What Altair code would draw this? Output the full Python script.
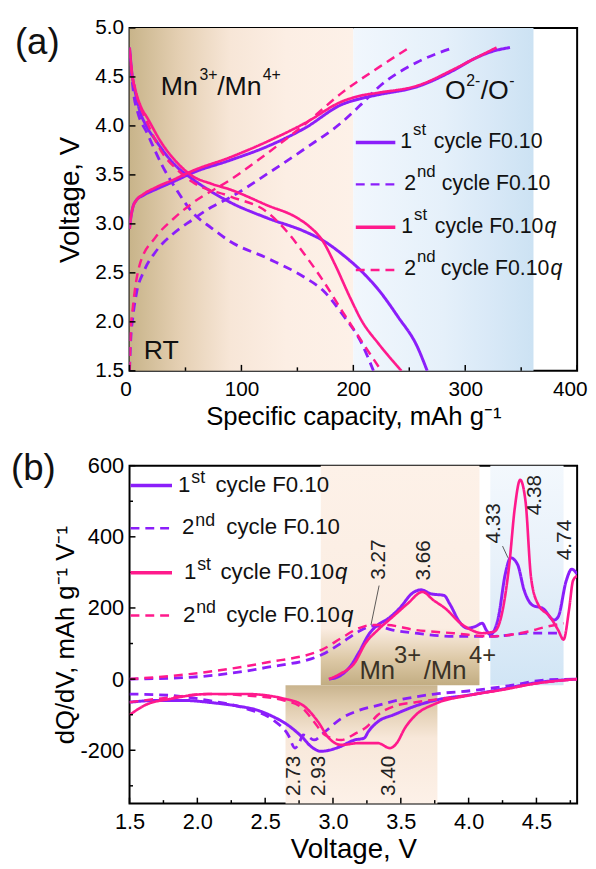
import altair as alt
import pandas as pd

FONT = "Liberation Sans"
PURPLE = "#8B1EFA"
PINK = "#FF1A8C"
INK = "#111111"

SERIES = ["1st F0.10", "2nd F0.10", "1st F0.10q", "2nd F0.10q"]
SERIES_COLORS = [PURPLE, PURPLE, PINK, PINK]

# ---------------- panel (a): voltage profiles ----------------
A_CAP_1ST_F010_CH = [0, 1, 3, 6, 12, 23, 39, 56, 90, 123, 157, 190, 207, 223, 257, 290, 307, 324, 340]
A_V_1ST_F010_CH = [2.95, 3.05, 3.17, 3.24, 3.29, 3.35, 3.43, 3.52, 3.65, 3.79, 3.98, 4.22, 4.28, 4.32, 4.40, 4.57, 4.68, 4.76, 4.80]
A_CAP_1ST_F010_DIS = [0, 2, 5, 9, 15, 23, 39, 56, 73, 90, 123, 157, 173, 190, 207, 223, 240, 257, 266]
A_V_1ST_F010_DIS = [4.80, 4.55, 4.35, 4.16, 4.00, 3.86, 3.62, 3.46, 3.33, 3.22, 3.06, 2.92, 2.83, 2.69, 2.52, 2.32, 2.05, 1.75, 1.50]

A_CAP_1ST_F010Q_CH = [0, 1, 3, 6, 12, 23, 39, 56, 90, 123, 157, 190, 207, 223, 257, 290, 307, 328]
A_V_1ST_F010Q_CH = [2.95, 3.05, 3.17, 3.24, 3.30, 3.37, 3.45, 3.54, 3.68, 3.84, 4.03, 4.25, 4.31, 4.34, 4.41, 4.58, 4.68, 4.80]
A_CAP_1ST_F010Q_DIS = [0, 2, 5, 10, 16, 29, 43, 56, 73, 90, 123, 150, 160, 173, 183, 197, 207, 223, 243]
A_V_1ST_F010Q_DIS = [4.80, 4.55, 4.38, 4.20, 4.08, 3.82, 3.62, 3.49, 3.41, 3.35, 3.19, 3.06, 2.98, 2.82, 2.60, 2.25, 2.02, 1.77, 1.50]

A_CAP_2ND_F010_CH = [0, 1, 3, 6, 13, 23, 39, 56, 73, 90, 123, 157, 190, 207, 223, 257, 290]
A_V_2ND_F010_CH = [1.50, 1.80, 2.05, 2.28, 2.52, 2.71, 2.90, 3.04, 3.17, 3.27, 3.51, 3.77, 4.04, 4.22, 4.40, 4.65, 4.80]
A_CAP_2ND_F010_DIS = [0, 2, 4, 7, 16, 29, 43, 56, 73, 90, 123, 157, 173, 190, 207, 218]
A_V_2ND_F010_DIS = [4.75, 4.50, 4.30, 4.15, 3.92, 3.60, 3.33, 3.12, 2.96, 2.82, 2.65, 2.45, 2.32, 2.08, 1.79, 1.50]

A_CAP_2ND_F010Q_CH = [0, 1, 3, 9, 23, 39, 56, 90, 123, 157, 190, 223, 250]
A_V_2ND_F010Q_CH = [1.50, 1.90, 2.15, 2.58, 2.86, 3.05, 3.21, 3.45, 3.72, 4.02, 4.34, 4.60, 4.80]
A_CAP_2ND_F010Q_DIS = [0, 2, 6, 16, 29, 43, 56, 90, 123, 140, 157, 173, 190, 207, 225]
A_V_2ND_F010Q_DIS = [4.78, 4.55, 4.33, 4.03, 3.73, 3.55, 3.43, 3.28, 3.12, 2.93, 2.68, 2.42, 2.11, 1.81, 1.50]

A_XDOMAIN = [0, 400]
A_YDOMAIN = [1.5, 5.0]
A_XTICKS = [0, 100, 200, 300, 400]
A_XMINOR = [50, 150, 250, 350]
A_YTICKS = [1.5, 2.0, 2.5, 3.0, 3.5, 4.0, 4.5, 5.0]
A_BAND_MN = [0, 200]
A_BAND_O = [200, 361]

# ---------------- panel (b): dQ/dV ----------------
B_V_1ST_F010_CH = [2.97, 3.05, 3.13, 3.19, 3.27, 3.33, 3.41, 3.50, 3.58, 3.65, 3.72, 3.82, 3.86, 3.94, 3.99, 4.05, 4.10, 4.13, 4.16, 4.22, 4.27, 4.31, 4.36, 4.41, 4.47, 4.55, 4.63, 4.66, 4.72, 4.76, 4.80]
B_DQ_1ST_F010_CH = [0, 9, 37, 74, 129, 152, 171, 203, 240, 251, 240, 235, 212, 157, 143, 148, 157, 138, 125, 175, 295, 341, 323, 249, 208, 198, 166, 175, 277, 309, 295]
B_V_1ST_F010Q_CH = [2.97, 3.05, 3.16, 3.24, 3.33, 3.44, 3.55, 3.66, 3.74, 3.83, 3.94, 4.02, 4.10, 4.19, 4.24, 4.30, 4.34, 4.38, 4.42, 4.46, 4.51, 4.60, 4.66, 4.70, 4.74, 4.77, 4.80]
B_DQ_1ST_F010Q_CH = [0, 14, 46, 101, 138, 175, 212, 245, 222, 198, 157, 138, 129, 134, 175, 323, 480, 560, 498, 286, 212, 175, 138, 111, 194, 277, 290]
B_V_2ND_F010_CH = [1.50, 1.94, 2.50, 2.92, 3.06, 3.19, 3.31, 3.44, 3.61, 3.89, 4.17, 4.44, 4.69]
B_DQ_2ND_F010_CH = [0, 5, 32, 69, 101, 134, 150, 138, 129, 120, 120, 129, 129]
B_V_2ND_F010Q_CH = [1.50, 1.94, 2.50, 2.92, 3.06, 3.19, 3.28, 3.39, 3.61, 3.89, 4.17, 4.44, 4.58, 4.70]
B_DQ_2ND_F010Q_CH = [0, 14, 46, 83, 115, 143, 152, 152, 138, 129, 120, 134, 148, 157]

B_V_1ST_F010_DIS = [4.80, 4.50, 4.25, 4.00, 3.77, 3.62, 3.45, 3.33, 3.26, 3.23, 3.16, 3.04, 2.91, 2.84, 2.77, 2.67, 2.55, 2.43, 2.30, 2.10, 1.90, 1.70, 1.50]
B_DQ_1ST_F010_DIS = [0, -10, -28, -45, -58, -74, -100, -120, -148, -166, -171, -192, -203, -190, -162, -130, -104, -86, -76, -66, -60, -60, -65]
B_V_1ST_F010Q_DIS = [4.80, 4.50, 4.25, 4.00, 3.75, 3.61, 3.53, 3.47, 3.42, 3.33, 3.19, 3.06, 2.97, 2.89, 2.78, 2.64, 2.36, 2.08, 1.81, 1.61, 1.50]
B_DQ_1ST_F010Q_DIS = [0, -12, -30, -46, -70, -101, -138, -180, -194, -180, -180, -185, -166, -120, -74, -55, -42, -42, -55, -74, -101]
B_V_2ND_F010_DIS = [4.80, 4.58, 4.31, 4.03, 3.75, 3.47, 3.33, 3.19, 3.06, 2.94, 2.86, 2.81, 2.78, 2.75, 2.72, 2.67, 2.56, 2.36, 2.08, 1.81, 1.50]
B_DQ_2ND_F010_DIS = [0, -2, -18, -32, -42, -60, -74, -88, -111, -148, -171, -160, -157, -180, -194, -157, -115, -83, -60, -46, -42]
B_V_2ND_F010Q_DIS = [4.80, 4.50, 4.17, 3.89, 3.61, 3.47, 3.33, 3.25, 3.17, 3.06, 2.94, 2.86, 2.78, 2.64, 2.36, 2.08, 1.81, 1.50]
B_DQ_2ND_F010Q_DIS = [0, -12, -35, -51, -65, -74, -101, -134, -152, -171, -157, -120, -83, -60, -46, -42, -51, -65]

B_XDOMAIN = [1.5, 4.8]
B_YDOMAIN = [-350, 600]
B_XTICKS = [1.5, 2.0, 2.5, 3.0, 3.5, 4.0, 4.5]
B_XMINOR = [1.75, 2.25, 2.75, 3.25, 3.75, 4.25, 4.75]
B_YTICKS = [-200, 0, 200, 400, 600]
B_YMINOR = [-300, -100, 100, 300, 500]
B_BOX_UP = [2.91, 4.08, -17, 600]
B_BOX_LOW = [2.65, 3.77, -350, -17]
B_BOX_O = [4.16, 4.70, -17, 600]
B_PEAK_LABELS = ["3.27", "3.66", "4.33", "4.38", "4.74", "2.73", "2.93", "3.40"]
B_PEAK_X = [3.34, 3.67, 4.19, 4.49, 4.71, 2.71, 2.90, 3.41]
B_PEAK_Y = [336, 334, 438, 517, 391, -272, -272, -272]
B_LEAD_X = [3.34, 4.25]
B_LEAD_Y = [263, 374]
B_LEAD_X2 = [3.28, 4.29]
B_LEAD_Y2 = [152, 341]

WA, HA = 453, 347
WB, HB = 453, 342


def curves(groups):
    rows = []
    for name, seg, xs, ys in groups:
        for x, y in zip(xs, ys):
            rows.append({"x": x, "y": y, "s": name, "seg": name + seg})
    return pd.DataFrame(rows)


class Panel:
    def __init__(self, sx, sy, ax, ay, h):
        self.sx, self.sy, self.ax, self.ay, self.h = sx, sy, ax, ay, h

    def X(self, f):
        return alt.X(f, scale=self.sx, axis=self.ax)

    def Y(self, f):
        return alt.Y(f, scale=self.sy, axis=self.ay)

    def lines(self, df):
        return alt.Chart(df).mark_line(interpolate="monotone", clip=True).encode(
            x=self.X("x:Q"), y=self.Y("y:Q"),
            color=alt.Color("s:N", scale=alt.Scale(domain=SERIES, range=SERIES_COLORS), legend=None),
            strokeDash=alt.StrokeDash("s:N", scale=alt.Scale(domain=SERIES, range=[[1, 0], [9, 6], [1, 0], [9, 6]]), legend=None),
            strokeWidth=alt.StrokeWidth("s:N", scale=alt.Scale(domain=SERIES, range=[3, 2.5, 3, 2.5]), legend=None),
            detail="seg:N",
        )

    def box(self, x0, x1, y0, y1, fill):
        df = pd.DataFrame({"x0": [x0], "x1": [x1], "y0": [y0], "y1": [y1]})
        return alt.Chart(df).mark_rect(color=fill).encode(
            x=self.X("x0:Q"), x2="x1", y=self.Y("y0:Q"), y2="y1")

    def xticks(self, vals, length):
        return alt.Chart(pd.DataFrame({"v": vals})).mark_rule(color="black", strokeWidth=1.5).encode(
            x=self.X("v:Q"), y=alt.value(self.h), y2=alt.value(self.h - length))

    def yticks(self, vals, length):
        return alt.Chart(pd.DataFrame({"v": vals})).mark_rule(color="black", strokeWidth=1.5).encode(
            y=self.Y("v:Q"), x=alt.value(0), x2=alt.value(length))

    def dtext(self, text, x, y, size, dx=0, dy=0, color=INK, style="normal"):
        df = pd.DataFrame({"x": [x], "y": [y]})
        return alt.Chart(df).mark_text(
            text=text, font=FONT, fontSize=size, dx=dx, dy=dy, align="left",
            baseline="alphabetic", color=color, fontStyle=style,
        ).encode(x=self.X("x:Q"), y=self.Y("y:Q"))


DUMMY = pd.DataFrame({"k": [0]})


def ptext(text, px, py, size, align="left", baseline="alphabetic", color=INK, style="normal"):
    return alt.Chart(DUMMY).mark_text(
        text=text, font=FONT, fontSize=size, align=align, baseline=baseline,
        color=color, fontStyle=style,
    ).encode(x=alt.value(px), y=alt.value(py))


def legend_layers(row_y, line_x, digit_x, main_x, size, sup_size, base_dy, sup_dy, dash):
    entries = [("1", "st", False, PURPLE, False), ("2", "nd", False, PURPLE, True),
               ("1", "st", True, PINK, False), ("2", "nd", True, PINK, True)]
    layers = []
    for i, (digit, sup, q, col, dashed) in enumerate(entries):
        y = row_y[i]
        ln = alt.Chart(DUMMY).mark_rule(
            color=col, strokeWidth=2.5 if dashed else 3.5,
            strokeDash=dash if dashed else [1, 0],
        ).encode(x=alt.value(line_x[0]), x2=alt.value(line_x[1]), y=alt.value(y), y2=alt.value(y))
        layers.append(ln)
        layers.append(ptext(digit, digit_x[i], y + base_dy, size))
        layers.append(ptext(sup, digit_x[i] + 0.556 * size + 1, y + sup_dy, sup_size))
        layers.append(ptext("cycle F0.10", main_x[i], y + base_dy, size))
        if q:
            layers.append(ptext("q", main_x[i] + 5.113 * size + 1, y + base_dy, size, style="italic"))
    return layers


# ---------------- build panel (a) ----------------
AXA = alt.Axis(values=A_XTICKS, title="Specific capacity, mAh g⁻¹", labelFontSize=21, titleFontSize=26,
               labelPadding=8, titlePadding=4, labelFlush=True, labelFlushOffset=10)
AYA = alt.Axis(values=A_YTICKS, labelExpr="format(datum.value, '.1f')", title="Voltage, V",
               labelFontSize=21, titleFontSize=28, labelPadding=6, titlePadding=10)
PA = Panel(alt.Scale(domain=A_XDOMAIN, nice=False, zero=False),
           alt.Scale(domain=A_YDOMAIN, nice=False, zero=False), AXA, AYA, HA)

df_a = curves([
    ("1st F0.10", "c", A_CAP_1ST_F010_CH, A_V_1ST_F010_CH),
    ("1st F0.10", "d", A_CAP_1ST_F010_DIS, A_V_1ST_F010_DIS),
    ("2nd F0.10", "c", A_CAP_2ND_F010_CH, A_V_2ND_F010_CH),
    ("2nd F0.10", "d", A_CAP_2ND_F010_DIS, A_V_2ND_F010_DIS),
    ("1st F0.10q", "c", A_CAP_1ST_F010Q_CH, A_V_1ST_F010Q_CH),
    ("1st F0.10q", "d", A_CAP_1ST_F010Q_DIS, A_V_1ST_F010Q_DIS),
    ("2nd F0.10q", "c", A_CAP_2ND_F010Q_CH, A_V_2ND_F010Q_CH),
    ("2nd F0.10q", "d", A_CAP_2ND_F010Q_DIS, A_V_2ND_F010Q_DIS),
])


def grad(stops, vertical=False):
    return alt.LinearGradient(
        gradient="linear",
        stops=[alt.GradientStop(color=c, offset=o) for o, c in stops],
        x1=0, y1=0, x2=0 if vertical else 1, y2=1 if vertical else 0,
    )


band_mn = grad([(0, "#C8B48A"), (0.22, "#E4CFB2"), (0.45, "#F7E6D7"), (0.7, "#FCEEE4"), (1, "#FDF1E8")])
band_o = grad([(0, "#F1F7FD"), (0.5, "#E5F0FA"), (0.75, "#D9E9F7"), (1, "#CCE2F3")])

layers_a = [
    PA.box(A_BAND_MN[0], A_BAND_MN[1], A_YDOMAIN[0], A_YDOMAIN[1], band_mn),
    PA.box(A_BAND_O[0], A_BAND_O[1], A_YDOMAIN[0], A_YDOMAIN[1], band_o),
    PA.lines(df_a),
    PA.xticks(A_XTICKS, 6),
    PA.xticks(A_XMINOR, 3.5),
    PA.yticks(A_YTICKS, 6),
    PA.dtext("Mn", 28, 4.32, 27),
    PA.dtext("3+", 28, 4.32, 16, dx=39, dy=-15),
    PA.dtext("/Mn", 28, 4.32, 27, dx=57),
    PA.dtext("4+", 28, 4.32, 16, dx=103, dy=-15),
    PA.dtext("O", 282, 4.27, 27),
    PA.dtext("2-", 282, 4.27, 16, dx=21.5, dy=-14),
    PA.dtext("/O", 282, 4.27, 27, dx=36),
    PA.dtext("-", 282, 4.27, 16, dx=65, dy=-14),
    PA.dtext("RT", 12.7, 1.62, 27),
    ptext("(a)", -116, 15, 37, baseline="middle"),
]
layers_a += legend_layers([116, 158.3, 201.6, 245], [229, 269], [274, 278, 275, 278], [308, 316, 309, 315],
                          21.5, 17, 5.5, -7.7, [9, 6])
panel_a = alt.layer(*layers_a).properties(width=WA, height=HA)

# ---------------- build panel (b) ----------------
AXB = alt.Axis(values=B_XTICKS, format=".1f", title="Voltage, V", labelFontSize=22, titleFontSize=28,
               labelPadding=8, titlePadding=4, labelFlush=False)
AYB = alt.Axis(values=B_YTICKS, labelExpr="'' + datum.value", title="dQ/dV, mAh g⁻¹ V⁻¹",
               labelFontSize=22, titleFontSize=26, labelPadding=6, titlePadding=2)
PB = Panel(alt.Scale(domain=B_XDOMAIN, nice=False, zero=False),
           alt.Scale(domain=B_YDOMAIN, nice=False, zero=False), AXB, AYB, HB)

df_b = curves([
    ("1st F0.10", "c", B_V_1ST_F010_CH, B_DQ_1ST_F010_CH),
    ("1st F0.10", "d", B_V_1ST_F010_DIS, B_DQ_1ST_F010_DIS),
    ("2nd F0.10", "c", B_V_2ND_F010_CH, B_DQ_2ND_F010_CH),
    ("2nd F0.10", "d", B_V_2ND_F010_DIS, B_DQ_2ND_F010_DIS),
    ("1st F0.10q", "c", B_V_1ST_F010Q_CH, B_DQ_1ST_F010Q_CH),
    ("1st F0.10q", "d", B_V_1ST_F010Q_DIS, B_DQ_1ST_F010Q_DIS),
    ("2nd F0.10q", "c", B_V_2ND_F010Q_CH, B_DQ_2ND_F010Q_CH),
    ("2nd F0.10q", "d", B_V_2ND_F010Q_DIS, B_DQ_2ND_F010Q_DIS),
])

box_up = grad([(0, "#FDF1E8"), (0.74, "#FBEDE2"), (0.88, "#DDC9A7"), (1, "#C2AD82")], vertical=True)
box_low = grad([(0, "#C9B48E"), (0.15, "#DDC9A9"), (0.45, "#F8E8DA"), (1, "#FDF1E8")], vertical=True)
box_o = grad([(0, "#F3F8FD"), (0.45, "#E8F1FA"), (1, "#D1E5F5")], vertical=True)

peaks = pd.DataFrame({"t": B_PEAK_LABELS, "x": B_PEAK_X, "y": B_PEAK_Y})
leads = pd.DataFrame({"x": B_LEAD_X, "y": B_LEAD_Y, "x2": B_LEAD_X2, "y2": B_LEAD_Y2})

MN_COL = "#3A3226"
layers_b = [
    PB.box(B_BOX_UP[0], B_BOX_UP[1], B_BOX_UP[2], B_BOX_UP[3], box_up),
    PB.box(B_BOX_LOW[0], B_BOX_LOW[1], B_BOX_LOW[2], B_BOX_LOW[3], box_low),
    PB.box(B_BOX_O[0], B_BOX_O[1], B_BOX_O[2], B_BOX_O[3], box_o),
    PB.lines(df_b),
    PB.xticks(B_XTICKS, 6),
    PB.xticks(B_XMINOR, 3.5),
    PB.yticks(B_YTICKS, 6),
    PB.yticks(B_YMINOR, 3.5),
    alt.Chart(leads).mark_rule(color="#333333", strokeWidth=0.8).encode(
        x=PB.X("x:Q"), y=PB.Y("y:Q"), x2="x2", y2="y2"),
    alt.Chart(peaks).mark_text(font=FONT, fontSize=21, angle=270, align="center", baseline="middle",
                               color="#222222").encode(x=PB.X("x:Q"), y=PB.Y("y:Q"), text="t:N"),
    PB.dtext("Mn", 3.195, 0, 26, color=MN_COL),
    PB.dtext("3+", 3.195, 0, 24, dx=35, dy=-16, color=MN_COL),
    PB.dtext("/Mn", 3.195, 0, 26, dx=65, color=MN_COL),
    PB.dtext("4+", 3.195, 0, 24, dx=111, dy=-16, color=MN_COL),
    ptext("(b)", -120, 3, 37, baseline="middle"),
]
layers_b += legend_layers([20, 63.3, 108.3, 151.6], [1, 43], [49, 53, 55, 54], [87, 98, 92, 98],
                          22.5, 18, 6.3, -2.5, [9, 6])
panel_b = alt.layer(*layers_b).properties(width=WB, height=HB)

chart = alt.vconcat(panel_a, panel_b, spacing=19).configure(
    padding={"left": 2, "top": 3, "right": 0, "bottom": 0},
    font=FONT,
).configure_view(stroke="black", strokeWidth=2).configure_axis(
    labelFont=FONT, titleFont=FONT, labelColor="black", titleColor="black",
    titleFontWeight="normal", ticks=False, domain=False, grid=False,
)

chart.save("out.html", embed_options={"renderer": "svg", "actions": False})
